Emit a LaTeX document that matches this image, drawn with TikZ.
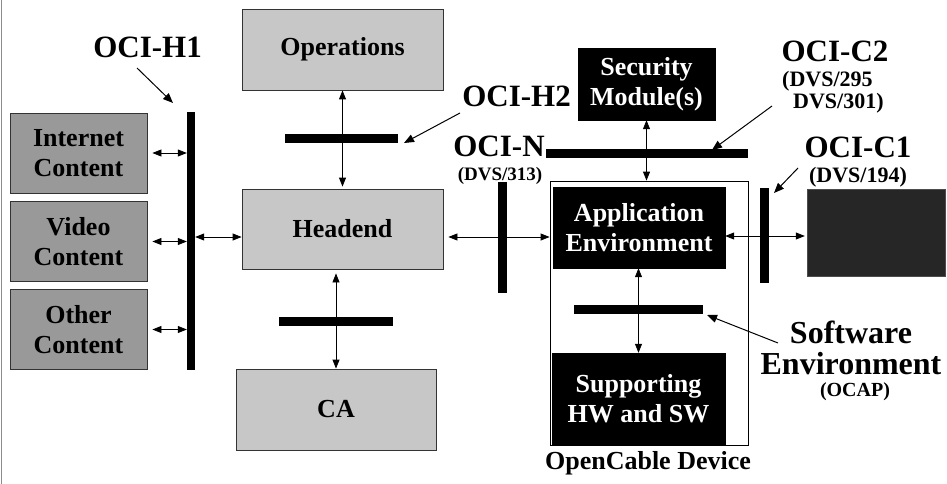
\documentclass[tikz,border=0pt]{standalone}
\usepackage{fontspec}
\setmainfont{Liberation Serif}
\usetikzlibrary{arrows.meta}
\begin{document}
\begin{tikzpicture}[x=1pt,y=-1pt,
  boxtxt/.style={font=\fontsize{26}{30}\selectfont\bfseries, align=center, inner sep=0pt},
  lightbox/.style={boxtxt, draw=black!80, line width=0.8pt, fill=black!22},
  contbox/.style={boxtxt, draw=black!80, line width=0.8pt, fill=black!40, minimum width=137pt, minimum height=80pt},
  darkbox/.style={boxtxt, draw=black, fill=black, text=white},
  bar/.style={fill=black, draw=none, inner sep=0pt},
  biglbl/.style={font=\fontsize{31}{31}\selectfont\bfseries, inner sep=0pt},
  sublbl/.style={font=\fontsize{20}{20}\selectfont\bfseries, inner sep=0pt},
  conn/.style={line width=0.8pt, {Triangle[length=9pt,width=7pt]}-{Triangle[length=9pt,width=7pt]}},
  ptr/.style={line width=1pt, -{Triangle[length=10pt,width=8pt]}}
]
\useasboundingbox (0,0) rectangle (947,484);
\fill[white] (0,0) rectangle (947,484);
\draw[black!45, line width=0.8pt] (1,0) -- (1,484);

% left content boxes
\node[contbox] (inet) at (78.5,153) {Internet\\Content};
\node[contbox] (video) at (78.5,241.5) {Video\\Content};
\node[contbox] (other) at (78.5,329.5) {Other\\Content};
\node[bar, minimum width=8pt, minimum height=258pt] (h1bar) at (191,241) {};

% headend column
\node[lightbox, minimum width=201pt, minimum height=81pt] (ops) at (342.5,49.5) {Operations};
\node[lightbox, minimum width=201pt, minimum height=80pt] (head) at (342.5,229) {Headend};
\node[lightbox, minimum width=200pt, minimum height=81pt] (ca) at (336,409.5) {CA};
\node[bar, minimum width=113pt, minimum height=9pt] (h2bar) at (341.5,138.5) {};
\node[bar, minimum width=114pt, minimum height=9pt] (cabar) at (336,321.5) {};

% OCI-N bar
\node[bar, minimum width=9pt, minimum height=111pt] (nbar) at (502.5,237.5) {};

% OpenCable device
\node[draw=black, line width=0.8pt, fill=white, minimum width=198pt, minimum height=264pt, inner sep=0pt] (dev) at (649,313) {};
\node[darkbox, minimum width=172pt, minimum height=81pt] (app) at (639,227.5) {Application\\Environment};
\node[darkbox, minimum width=173pt, minimum height=92pt] (supp) at (638.5,399) {Supporting\\HW and SW};
\node[bar, minimum width=129pt, minimum height=9pt] (swbar) at (638.5,309.5) {};
\node[darkbox, minimum width=137pt, minimum height=72pt] (sec) at (646.5,84) {Security\\Module(s)};
\node[bar, minimum width=202pt, minimum height=9pt] (c2bar) at (647,153.5) {};
\node[bar, minimum width=9pt, minimum height=95pt] (c1bar) at (764.5,235.5) {};
\node[fill=black!85, draw=black!70, minimum width=138pt, minimum height=87pt, inner sep=0pt] (ext) at (876,232.5) {};

% connectors
\draw[conn] ([xshift=5pt]inet.east) -- (inet.east -| h1bar.west);
\draw[conn] ([xshift=5pt]video.east) -- (video.east -| h1bar.west);
\draw[conn] ([xshift=5pt]other.east) -- (other.east -| h1bar.west);
\draw[conn] (h1bar.east |- 0,237) -- ([yshift=-8pt]head.west);
\draw[conn] (ops.south) -- ([yshift=2pt]head.north);
\draw[conn] ([yshift=-4pt]ca.north |- head.south) -- (ca.north);
\draw[conn] ([xshift=5pt,yshift=-8pt]head.east) -- (dev.west |- 0,237);
\draw[conn] (sec.south) -- (sec.south |- dev.north);
\draw[conn] (app.south -| swbar) -- (supp.north -| swbar);
\draw[conn] (app.east |- 0,236) -- ([xshift=-2pt]ext.west |- 0,236);

% labels
\node[biglbl] (lh1) at (147.5,47) {OCI-H1};
\node[biglbl] (lh2) at (516.5,96) {OCI-H2};
\node[biglbl] (ln) at (499,146) {OCI-N};
\node[sublbl, font=\fontsize{19}{19}\selectfont\bfseries] (lnsub) at (500,176) {(DVS/313)};
\node[biglbl] (lc2) at (835,51) {OCI-C2};
\node[sublbl, anchor=west, font=\fontsize{22}{22}\selectfont\bfseries] (lc2a) at (782,81) {(DVS/295};
\node[sublbl, anchor=west, font=\fontsize{22}{22}\selectfont\bfseries] (lc2b) at (793,103) {DVS/301)};
\node[biglbl] (lc1) at (858,147) {OCI-C1};
\node[sublbl, font=\fontsize{22}{22}\selectfont\bfseries] (lc1sub) at (858,177) {(DVS/194)};
\node[boxtxt, font=\fontsize{32}{31}\selectfont\bfseries] (lsw) at (851,348) {Software\\Environment};
\node[sublbl, font=\fontsize{20}{20}\selectfont\bfseries] (lswsub) at (855,392) {(OCAP)};
\node[boxtxt] (ldev) at (648,463) {OpenCable Device};

% label pointers
\coordinate (h1s) at (137,68);  \coordinate (h1t) at (173,103);
\coordinate (h2s) at (460,113); \coordinate (h2t) at (404,143);
\coordinate (c2s) at (772,106); \coordinate (c2t) at (712,150);
\coordinate (c1s) at (798,168); \coordinate (c1t) at (774,193);
\coordinate (sws) at (778,343); \coordinate (swt) at (707,315);
\draw[ptr] (h1s) -- (h1t);
\draw[ptr] (h2s) -- (h2t);
\draw[ptr] (c2s) -- (c2t);
\draw[ptr] (c1s) -- (c1t);
\draw[ptr] (sws) -- (swt);
\end{tikzpicture}
\end{document}
